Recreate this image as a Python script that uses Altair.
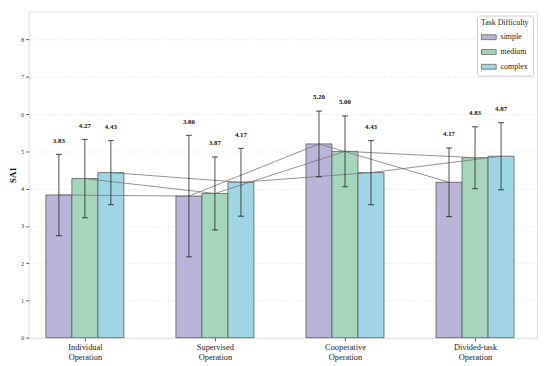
import altair as alt
import pandas as pd

operations = ["Individual Operation", "Supervised Operation", "Cooperative Operation", "Divided-task Operation"]
difficulties = ["simple", "medium", "complex"]
means = {
    "simple": [3.83, 3.80, 5.20, 4.17],
    "medium": [4.27, 3.87, 5.00, 4.83],
    "complex": [4.43, 4.17, 4.43, 4.87],
}
sds = {
    "simple": [1.09, 1.63, 0.88, 0.92],
    "medium": [1.05, 0.98, 0.95, 0.83],
    "complex": [0.86, 0.91, 0.86, 0.90],
}
colors = ["#b8b5d8", "#a5d6bb", "#9fd5e5"]
bar_width = 0.2

rows = []
for i, op in enumerate(operations):
    for j, d in enumerate(difficulties):
        rows.append({
            "operation": op,
            "difficulty": d,
            "gi": i,
            "di": j,
            "mean": means[d][i],
            "sd": sds[d][i],
        })
df = pd.DataFrame(rows)

base = alt.Chart(df).transform_calculate(
    pos=f"datum.gi + (datum.di - 1) * {bar_width}",
    left=f"datum.gi + (datum.di - 1) * {bar_width} - {bar_width / 2}",
    right=f"datum.gi + (datum.di - 1) * {bar_width} + {bar_width / 2}",
    lo="datum.mean - datum.sd",
    hi="datum.mean + datum.sd",
    label="format(datum.mean, '.2f')",
)

label_lines = "[" + ",".join(
    "[" + ",".join(f"'{w}'" for w in op.split(" ")) + "]" for op in operations
) + "]"

xscale = alt.Scale(domain=[-0.432, 3.477], nice=False, zero=False)
yscale = alt.Scale(domain=[0, 8.75], nice=False)

x_axis = alt.Axis(
    values=list(range(len(operations))),
    labelExpr=f"{label_lines}[datum.value]",
    title=None, grid=False, domain=False,
    labelFont="Liberation Serif", labelFontSize=8.5, labelColor="#222",
    tickColor="#555", tickSize=3, labelPadding=2, labelLineHeight=10,
)
y_axis = alt.Axis(
    values=list(range(0, 9)), title="SA1",
    titleFont="Liberation Serif", titleFontSize=9, titleFontWeight="bold",
    titleColor="#111", titlePadding=3,
    labelFont="Liberation Serif", labelFontSize=6.5, labelColor="#444",
    tickColor="#555", tickSize=3, labelPadding=2, domain=False,
    grid=True, gridColor="#e6e6e6", gridDash=[3, 2], gridWidth=0.7,
)

bars = base.mark_bar(stroke="#5a5a5a", strokeWidth=0.8).encode(
    x=alt.X("left:Q", scale=xscale, axis=x_axis),
    x2="right:Q",
    y=alt.Y("mean:Q", scale=yscale, axis=y_axis),
    y2=alt.datum(0),
    fill=alt.Fill(
        "difficulty:N",
        scale=alt.Scale(domain=difficulties, range=colors),
        sort=difficulties,
        legend=alt.Legend(
            title="Task Difficulty", orient="top-right", offset=4,
            titleFont="Liberation Serif", titleFontSize=8, titleFontWeight="normal",
            titleColor="#222", titlePadding=2,
            labelFont="Liberation Serif", labelFontSize=8, labelColor="#222",
            symbolType="M-1,-0.33L1,-0.33L1,0.33L-1,0.33Z", symbolSize=225,
            symbolStrokeColor="#666", symbolStrokeWidth=0.8,
            fillColor="white", strokeColor="#cccccc", padding=4, cornerRadius=2,
            rowPadding=2,
        ),
    ),
)

lines = base.mark_line(color="#777777", strokeWidth=0.8).encode(
    x=alt.X("pos:Q", scale=xscale),
    y=alt.Y("mean:Q", scale=yscale),
    detail="difficulty:N",
    order="gi:Q",
)

err = base.mark_rule(color="#222", strokeWidth=0.8).encode(
    x=alt.X("pos:Q", scale=xscale),
    y=alt.Y("lo:Q", scale=yscale),
    y2="hi:Q",
)
cap_lo = base.mark_tick(color="#222", thickness=1.2, size=6, orient="horizontal").encode(
    x=alt.X("pos:Q", scale=xscale),
    y=alt.Y("lo:Q", scale=yscale),
)
cap_hi = base.mark_tick(color="#222", thickness=1.2, size=6, orient="horizontal").encode(
    x=alt.X("pos:Q", scale=xscale),
    y=alt.Y("hi:Q", scale=yscale),
)
labels = base.mark_text(
    font="Liberation Serif", fontSize=7, fontWeight="bold", color="#111",
    dy=-14,
).encode(
    x=alt.X("pos:Q", scale=xscale),
    y=alt.Y("hi:Q", scale=yscale),
    text="label:N",
)

chart = alt.layer(bars, lines, err, cap_lo, cap_hi, labels).properties(
    width=516, height=331,
    autosize=alt.AutoSizeParams(type="none"),
    padding={"left": 21, "top": 1, "right": 5, "bottom": 22},
).configure_view(stroke="#888888", strokeWidth=1.2).configure(background="white")

chart.save("out.html", embed_options={"renderer": "svg", "actions": False})
